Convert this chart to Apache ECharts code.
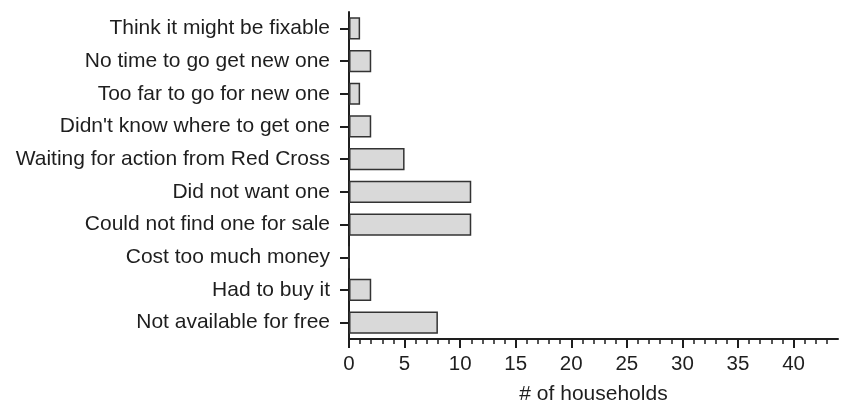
<!DOCTYPE html>
<html>
<head>
<meta charset="utf-8">
<script src="https://cdn.jsdelivr.net/npm/echarts@6/dist/echarts.min.js"></script>
<style>
  html, body { margin: 0; padding: 0; background: #fff; }
  #chart { width: 842px; height: 406px; }
</style>
</head>
<body>
<div id="chart"></div>
<script>
// Reasons households gave, listed top to bottom
const reasons = [
  'Think it might be fixable',
  'No time to go get new one',
  'Too far to go for new one',
  "Didn't know where to get one",
  'Waiting for action from Red Cross',
  'Did not want one',
  'Could not find one for sale',
  'Cost too much money',
  'Had to buy it',
  'Not available for free'
];
const households = [1, 2, 1, 2, 5, 11, 11, 0, 2, 8];

// Axis ticks: labelled major ticks every 5, unlabelled minor ticks every 1
const majorTicks = [0, 5, 10, 15, 20, 25, 30, 35, 40];
const minorTicks = [];
for (let v = 1; v <= 43; v++) if (v % 5 !== 0) minorTicks.push(v);

const ink = '#1e1e1e';
const font = 'Liberation Sans, Arial, Helvetica, sans-serif';

const chart = echarts.init(document.getElementById('chart'), null, { renderer: 'canvas' });
chart.setOption({
  animation: false,
  backgroundColor: '#ffffff',
  grid: { left: 349, right: 4, top: 12, bottom: 67, containLabel: false, outerBoundsMode: 'none' },
  xAxis: [
    {
      type: 'value', min: 0, max: 44, position: 'bottom',
      name: '# of households', nameLocation: 'middle', nameGap: 45,
      nameTextStyle: { color: ink, fontSize: 21, fontFamily: font },
      axisLine: { show: true, onZero: false, lineStyle: { color: ink, width: 2 } },
      axisTick: { show: true, customValues: majorTicks, length: 9, lineStyle: { color: ink, width: 2 } },
      axisLabel: { show: true, customValues: majorTicks, margin: 15, color: ink, fontSize: 20.5, fontFamily: font },
      splitLine: { show: false }
    },
    {
      type: 'value', min: 0, max: 44, position: 'bottom',
      axisLine: { show: false },
      axisTick: { show: true, customValues: minorTicks, length: 5, lineStyle: { color: ink, width: 1.5 } },
      axisLabel: { show: false },
      splitLine: { show: false }
    }
  ],
  yAxis: {
    type: 'category', data: reasons, inverse: true,
    axisLine: { show: true, lineStyle: { color: ink, width: 2 } },
    axisTick: { show: true, alignWithLabel: true, length: 9, lineStyle: { color: ink, width: 2 } },
    axisLabel: { margin: 19, color: ink, fontSize: 21, fontFamily: font },
    splitLine: { show: false }
  },
  series: [{
    type: 'bar', xAxisIndex: 0, data: households,
    barCategoryGap: '32%',
    itemStyle: { color: '#d9d9d9', borderColor: '#333333', borderWidth: 1.5 }
  }]
});
</script>
</body>
</html>
